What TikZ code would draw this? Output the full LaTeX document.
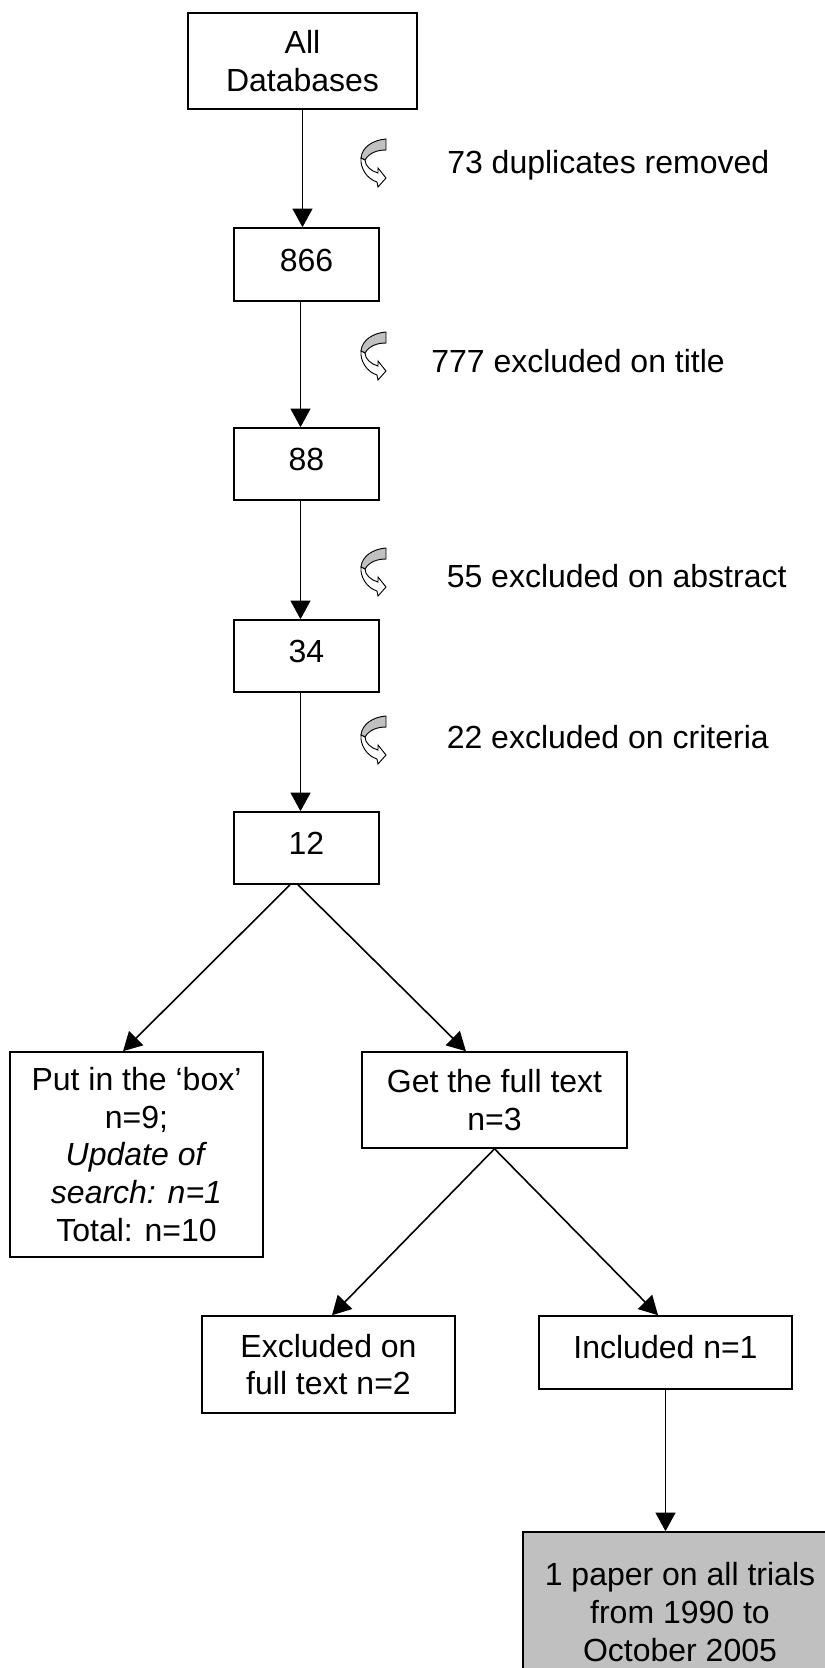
\documentclass[tikz,border=0pt]{standalone}
\usepackage{fontspec}
\setmainfont{Liberation Sans}
\usetikzlibrary{arrows.meta}
\definecolor{boxgray}{RGB}{192,192,192}
\def\bendarrow(#1){
	\begin{scope}[shift={(#1)}, line width=0.7pt]
		\draw[fill=boxgray] (25,0) .. controls (12,1) and (1,8) .. (0,19) -- (4,21) .. controls (8,14) and (16,11) .. (25,11) -- cycle;
		\draw[fill=white] (0,19) .. controls (-1,29) and (6,40) .. (16,43) -- (17,48) -- (25,39) -- (17,29) -- (17,34) .. controls (10,32) and (4,27) .. (4,21) -- cycle;
	\end{scope}
}

\begin{document}
\begin{tikzpicture}[x=0.75pt, y=-0.75pt,
		box/.style={draw, line width=1.2pt, align=center, inner sep=0pt, font=\fontsize{24}{28.2}\selectfont},
		numbox/.style={box, minimum width=108.75pt, minimum height=54pt, text depth=6.4pt},
		arr/.style={line width=1.2pt, -{Triangle[length=14pt, width=15pt]}},
		lbl/.style={anchor=base west, inner sep=0pt, font=\fontsize{24}{28.2}\selectfont}]
		%%%%% START %%%%%
		\useasboundingbox (0,0) rectangle (825,1668);
		
		\node[box, minimum width=171.75pt, minimum height=72pt] (alldb) at (302.5, 61) {All\\Databases};
		\node[numbox, minimum height=54.75pt] (n866) at (306.5, 264.5) {866};
		\node[numbox] (n88) at (306.5, 464) {88};
		\node[numbox] (n34) at (306.5, 656) {34};
		\node[numbox] (n12) at (306.5, 848) {12};
		
		\node[box, minimum width=189.75pt, minimum height=153.75pt] (putbox) at (136.5, 1154.5) {Put in the ‘box’\\n=9;\\\textit{Update of}\\\textit{search: n=1}\\Total: n=10};
		\node[box, minimum width=198.75pt, minimum height=72pt] (getbox) at (494.5, 1100) {Get the full text\\n=3};
		\node[box, minimum width=189.75pt, minimum height=72.75pt] (excl) at (328.5, 1364.5) {Excluded on\\full text n=2};
		\node[box, minimum width=189.75pt, minimum height=54.75pt, text depth=8pt] (incl) at (665.5, 1352.5) {Included n=1};
		\node[box, fill=boxgray, minimum width=235.5pt, minimum height=120pt] (final) at (680, 1612) {1 paper on all trials\\from 1990 to\\October 2005};
		
		\draw[arr] (alldb.south) -- (alldb.south |- n866.north);
		\draw[arr] ([xshift=-4.5pt]n866.south) -- ([xshift=-4.5pt]n88.north);
		\draw[arr] ([xshift=-4.5pt]n88.south) -- ([xshift=-4.5pt]n34.north);
		\draw[arr] ([xshift=-4.5pt]n34.south) -- ([xshift=-4.5pt]n12.north);
		
		\draw[arr] ([xshift=-12.4pt]n12.south) -- ([xshift=-10.1pt]putbox.north);
		\draw[arr] ([xshift=-6.4pt]n12.south) -- ([xshift=-21.4pt]getbox.north);
		\draw[arr] (getbox.south) -- ([xshift=2.6pt]excl.north);
		\draw[arr] (getbox.south) -- ([xshift=-5.6pt]incl.north);
		\draw[arr] (incl.south) -- (incl.south |- final.north);
		
		\bendarrow(361, 139);
		\node[lbl] (lab73) at (447, 173) {73 duplicates removed};
		\bendarrow(361, 332);
		\node[lbl] (lab777) at (431, 372) {777 excluded on title};
		\bendarrow(361, 548);
		\node[lbl] (lab55) at (446.5, 587) {55 excluded on abstract};
		\bendarrow(361, 716);
		\node[lbl] (lab22) at (446.5, 748) {22 excluded on criteria};
		%%%%% END %%%%%
\end{tikzpicture}
\end{document}
